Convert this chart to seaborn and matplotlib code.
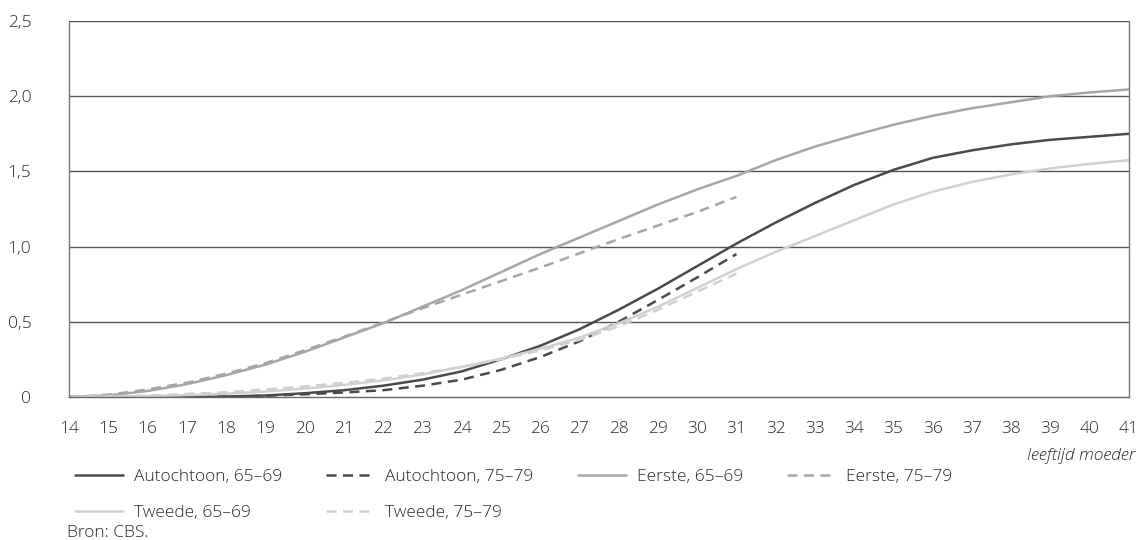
import pandas as pd
import seaborn as sns
import matplotlib.pyplot as plt

# ages (x axis) and cumulative fertility per group
ages = list(range(14, 42))
ages_75 = list(range(14, 32))

autochtoon_65 = [0, 0, 0, 0, 0.003, 0.01, 0.025, 0.045, 0.075, 0.115, 0.17, 0.25, 0.34, 0.45,
                 0.58, 0.72, 0.87, 1.02, 1.16, 1.29, 1.41, 1.51, 1.59, 1.64, 1.68, 1.71, 1.73, 1.75]
autochtoon_75 = [0, 0, 0, 0, 0.003, 0.008, 0.018, 0.03, 0.045, 0.075, 0.115, 0.18, 0.265, 0.37,
                 0.50, 0.645, 0.795, 0.95]
eerste_65 = [0, 0.01, 0.04, 0.085, 0.145, 0.215, 0.30, 0.395, 0.49, 0.60, 0.71, 0.83, 0.95, 1.06,
             1.17, 1.28, 1.38, 1.47, 1.575, 1.665, 1.74, 1.81, 1.87, 1.92, 1.96, 2.00, 2.025, 2.045]
eerste_75 = [0, 0.015, 0.05, 0.095, 0.155, 0.225, 0.31, 0.40, 0.495, 0.59, 0.68, 0.77, 0.86, 0.955,
             1.05, 1.14, 1.23, 1.33]
tweede_65 = [0, 0.002, 0.006, 0.012, 0.022, 0.036, 0.056, 0.08, 0.11, 0.15, 0.20, 0.255, 0.32, 0.395,
             0.49, 0.60, 0.725, 0.85, 0.965, 1.07, 1.175, 1.28, 1.365, 1.43, 1.48, 1.52, 1.55, 1.575]
tweede_75 = [0, 0.004, 0.01, 0.02, 0.032, 0.05, 0.07, 0.094, 0.122, 0.158, 0.20, 0.25, 0.31, 0.38,
             0.47, 0.58, 0.70, 0.82]

yticks = [0, 0.5, 1.0, 1.5, 2.0, 2.5]
ytick_labels = ['0', '0,5', '1,0', '1,5', '2,0', '2,5']

dark = '#4a4a4a'
mid = '#a6a6a6'
light = '#d0d0d0'
txt = '#2a2a2a'
fs = 12.5

sns.set_style('white')
plt.rcParams['font.family'] = ['Open Sans', 'DejaVu Sans']
plt.rcParams['font.weight'] = 'light'
plt.rcParams['font.size'] = fs

fig = plt.figure(figsize=(11.39, 5.4), dpi=100)
ax = fig.add_axes([69 / 1139, 1 - 397 / 540, (1129 - 69) / 1139, (397 - 21) / 540])

series = [
    (ages, autochtoon_65, dark, '-', 'Autochtoon, 65–69'),
    (ages_75, autochtoon_75, dark, (0, (4, 2.6)), 'Autochtoon, 75–79'),
    (ages, eerste_65, mid, '-', 'Eerste, 65–69'),
    (ages_75, eerste_75, mid, (0, (4, 2.6)), 'Eerste, 75–79'),
    (ages, tweede_65, light, '-', 'Tweede, 65–69'),
    (ages_75, tweede_75, light, (0, (4, 2.6)), 'Tweede, 75–79'),
]
for x, y, c, ls, name in series:
    df = pd.DataFrame({'age': x, 'value': y})
    sns.lineplot(data=df, x='age', y='value', ax=ax, color=c, linestyle=ls, linewidth=1.8, label=name)

ax.set_xlim(14, 41)
ax.set_ylim(0, 2.5)
ax.set_xticks(ages)
ax.set_yticks(yticks)
ax.set_yticklabels(ytick_labels, color=txt)
ax.set_xlabel('')
ax.set_ylabel('')
for yy in yticks[1:]:
    ax.axhline(yy, color='#555555', linewidth=1, zorder=0)

ax.tick_params(axis='x', direction='out', length=7, width=1, color='#666666', pad=10, labelcolor=txt,
               labelsize=fs)
ax.tick_params(axis='y', length=0, pad=27, labelsize=fs)
for s in ['left', 'right']:
    ax.spines[s].set_color('#777777')
    ax.spines[s].set_linewidth(1)
ax.spines['top'].set_visible(False)
ax.spines['bottom'].set_color('#666666')
ax.spines['bottom'].set_linewidth(1)

ax.get_legend().remove()
handles, labels = ax.get_legend_handles_labels()
order = [0, 4, 1, 5, 2, 3]
fig.legend([handles[i] for i in order], [labels[i] for i in order], ncol=4, frameon=False,
           loc='upper left', bbox_to_anchor=(66 / 1139, 1 - 460 / 540), borderpad=0,
           handlelength=2.8, handletextpad=0.6, columnspacing=2.55, labelspacing=1.15,
           fontsize=fs, labelcolor=txt)

fig.text(1135 / 1139, 1 - 456 / 540, 'leeftijd moeder', ha='right', va='center', style='italic',
         fontsize=fs, color=txt)
fig.text(67 / 1139, 1 - 533 / 540, 'Bron: CBS.', ha='left', va='center', fontsize=fs, color=txt)

fig.savefig('out.png', dpi=100)
